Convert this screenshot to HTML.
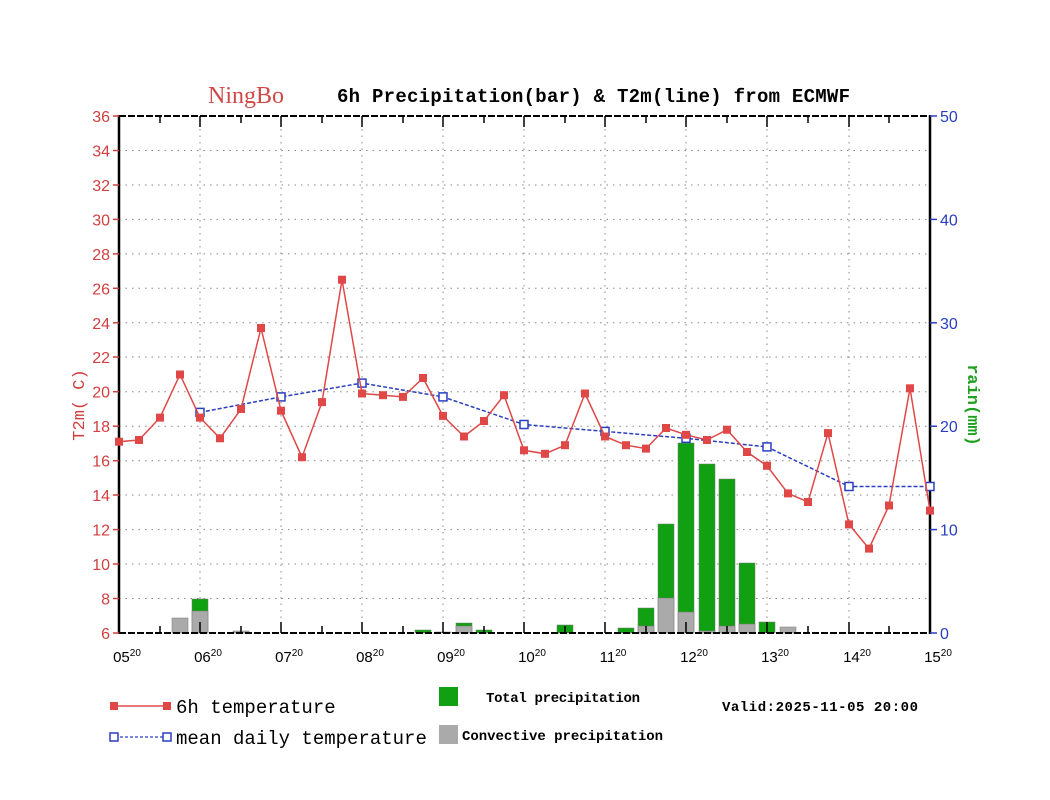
<!DOCTYPE html>
<html><head><meta charset="utf-8"><style>
html,body{margin:0;padding:0;background:#fff;}
svg{display:block;}
</style></head><body>
<svg width="1050" height="800" xmlns="http://www.w3.org/2000/svg">
<rect width="1050" height="800" fill="#fff"/>
<g stroke="#888" stroke-width="1" stroke-dasharray="1.5,5">
<line x1="119" x2="930" y1="150.5" y2="150.5"/><line x1="119" x2="930" y1="185" y2="185"/><line x1="119" x2="930" y1="219.4" y2="219.4"/><line x1="119" x2="930" y1="253.9" y2="253.9"/><line x1="119" x2="930" y1="288.3" y2="288.3"/><line x1="119" x2="930" y1="322.8" y2="322.8"/><line x1="119" x2="930" y1="357" y2="357"/><line x1="119" x2="930" y1="391.7" y2="391.7"/><line x1="119" x2="930" y1="426.2" y2="426.2"/><line x1="119" x2="930" y1="460.7" y2="460.7"/><line x1="119" x2="930" y1="495" y2="495"/><line x1="119" x2="930" y1="529.6" y2="529.6"/><line x1="119" x2="930" y1="564" y2="564"/><line x1="119" x2="930" y1="598.5" y2="598.5"/>
<line y1="116" y2="633" x1="200" x2="200"/><line y1="116" y2="633" x1="281" x2="281"/><line y1="116" y2="633" x1="362" x2="362"/><line y1="116" y2="633" x1="443" x2="443"/><line y1="116" y2="633" x1="524" x2="524"/><line y1="116" y2="633" x1="605" x2="605"/><line y1="116" y2="633" x1="686" x2="686"/><line y1="116" y2="633" x1="767" x2="767"/><line y1="116" y2="633" x1="849" x2="849"/>
</g>
<g stroke="#777" stroke-width="0.5">
<rect x="172" y="618" width="16" height="15" fill="#aaa"/>
<rect x="192" y="599" width="16" height="34" fill="#11a011"/><rect x="192" y="611" width="16" height="22" fill="#aaa"/>
<rect x="233" y="631" width="16" height="2" fill="#aaa"/>
<rect x="415" y="630" width="16" height="3" fill="#11a011"/>
<rect x="435" y="632" width="16" height="1" fill="#aaa"/>
<rect x="456" y="623" width="16" height="10" fill="#11a011"/><rect x="456" y="626" width="16" height="7" fill="#aaa"/>
<rect x="476" y="630" width="16" height="3" fill="#11a011"/>
<rect x="557" y="625" width="16" height="8" fill="#11a011"/>
<rect x="618" y="628" width="16" height="5" fill="#11a011"/>
<rect x="638" y="608" width="16" height="25" fill="#11a011"/><rect x="638" y="626" width="16" height="7" fill="#aaa"/>
<rect x="658" y="524" width="16" height="109" fill="#11a011"/><rect x="658" y="598" width="16" height="35" fill="#aaa"/>
<rect x="678" y="443" width="16" height="190" fill="#11a011"/><rect x="678" y="612" width="16" height="21" fill="#aaa"/>
<rect x="699" y="464" width="16" height="169" fill="#11a011"/><rect x="699" y="631" width="16" height="2" fill="#aaa"/>
<rect x="719" y="479" width="16" height="154" fill="#11a011"/><rect x="719" y="626" width="16" height="7" fill="#aaa"/>
<rect x="739" y="563" width="16" height="70" fill="#11a011"/><rect x="739" y="624" width="16" height="9" fill="#aaa"/>
<rect x="759" y="622" width="16" height="11" fill="#11a011"/>
<rect x="780" y="627" width="16" height="6" fill="#aaa"/>
</g>
<g stroke="#000">
<line x1="119" x2="930" y1="116" y2="116" stroke-width="2" stroke-dasharray="7,2"/>
<line x1="119" x2="930" y1="633" y2="633" stroke-width="2" stroke-dasharray="7,2"/>
<line x1="119" x2="119" y1="115" y2="634" stroke-width="2.5"/>
<line x1="930" x2="930" y1="115" y2="634" stroke-width="2.5"/>
<g stroke-width="1.5">
<line x1="160" x2="160" y1="116" y2="123"/><line x1="200" x2="200" y1="116" y2="127"/><line x1="241" x2="241" y1="116" y2="123"/><line x1="281" x2="281" y1="116" y2="127"/><line x1="322" x2="322" y1="116" y2="123"/><line x1="362" x2="362" y1="116" y2="127"/><line x1="403" x2="403" y1="116" y2="123"/><line x1="443" x2="443" y1="116" y2="127"/><line x1="484" x2="484" y1="116" y2="123"/><line x1="524" x2="524" y1="116" y2="127"/><line x1="565" x2="565" y1="116" y2="123"/><line x1="605" x2="605" y1="116" y2="127"/><line x1="646" x2="646" y1="116" y2="123"/><line x1="686" x2="686" y1="116" y2="127"/><line x1="727" x2="727" y1="116" y2="123"/><line x1="767" x2="767" y1="116" y2="127"/><line x1="808" x2="808" y1="116" y2="123"/><line x1="849" x2="849" y1="116" y2="127"/><line x1="889" x2="889" y1="116" y2="123"/>
<line x1="160" x2="160" y1="633" y2="626"/><line x1="200" x2="200" y1="633" y2="622"/><line x1="241" x2="241" y1="633" y2="626"/><line x1="281" x2="281" y1="633" y2="622"/><line x1="322" x2="322" y1="633" y2="626"/><line x1="362" x2="362" y1="633" y2="622"/><line x1="403" x2="403" y1="633" y2="626"/><line x1="443" x2="443" y1="633" y2="622"/><line x1="484" x2="484" y1="633" y2="626"/><line x1="524" x2="524" y1="633" y2="622"/><line x1="565" x2="565" y1="633" y2="626"/><line x1="605" x2="605" y1="633" y2="622"/><line x1="646" x2="646" y1="633" y2="626"/><line x1="686" x2="686" y1="633" y2="622"/><line x1="727" x2="727" y1="633" y2="626"/><line x1="767" x2="767" y1="633" y2="622"/><line x1="808" x2="808" y1="633" y2="626"/><line x1="849" x2="849" y1="633" y2="622"/><line x1="889" x2="889" y1="633" y2="626"/>
</g>
</g>
<g stroke="#d04040" stroke-width="1.5">
<line x1="113" x2="119" y1="116" y2="116"/><line x1="113" x2="119" y1="150.5" y2="150.5"/><line x1="113" x2="119" y1="185" y2="185"/><line x1="113" x2="119" y1="219.4" y2="219.4"/><line x1="113" x2="119" y1="253.9" y2="253.9"/><line x1="113" x2="119" y1="288.3" y2="288.3"/><line x1="113" x2="119" y1="322.8" y2="322.8"/><line x1="113" x2="119" y1="357" y2="357"/><line x1="113" x2="119" y1="391.7" y2="391.7"/><line x1="113" x2="119" y1="426.2" y2="426.2"/><line x1="113" x2="119" y1="460.7" y2="460.7"/><line x1="113" x2="119" y1="495" y2="495"/><line x1="113" x2="119" y1="529.6" y2="529.6"/><line x1="113" x2="119" y1="564" y2="564"/><line x1="113" x2="119" y1="598.5" y2="598.5"/><line x1="113" x2="119" y1="633" y2="633"/>
</g>
<g stroke="#2a3fbf" stroke-width="1.5">
<line x1="930" x2="937" y1="116" y2="116"/><line x1="930" x2="937" y1="219.4" y2="219.4"/><line x1="930" x2="937" y1="322.8" y2="322.8"/><line x1="930" x2="937" y1="426.2" y2="426.2"/><line x1="930" x2="937" y1="529.6" y2="529.6"/><line x1="930" x2="937" y1="633" y2="633"/>
</g>
<g font-family="Liberation Sans, sans-serif" font-size="16" fill="#d04040" text-anchor="end">
<text x="110" y="122">36</text><text x="110" y="156.5">34</text><text x="110" y="191">32</text><text x="110" y="225.4">30</text><text x="110" y="259.9">28</text><text x="110" y="294.3">26</text><text x="110" y="328.8">24</text><text x="110" y="363">22</text><text x="110" y="397.7">20</text><text x="110" y="432.2">18</text><text x="110" y="466.7">16</text><text x="110" y="501">14</text><text x="110" y="535.6">12</text><text x="110" y="570">10</text><text x="110" y="604.5">8</text><text x="110" y="639">6</text>
</g>
<g font-family="Liberation Sans, sans-serif" font-size="16" fill="#2a3fbf">
<text x="940" y="122">50</text><text x="940" y="225.4">40</text><text x="940" y="328.8">30</text><text x="940" y="432.2">20</text><text x="940" y="535.6">10</text><text x="940" y="639">0</text>
</g>
<text transform="translate(84,405) rotate(-90)" font-family="Liberation Mono, monospace" font-size="17" fill="#d04040" text-anchor="middle">T2m( C)</text>
<text transform="translate(968,405) rotate(90)" font-family="Liberation Mono, monospace" font-size="17" font-weight="bold" fill="#20a020" text-anchor="middle">rain(mm)</text>
<g font-family="Liberation Sans, sans-serif" font-size="15" fill="#000" text-anchor="middle">
<text x="127" y="662">05<tspan font-size="10" dy="-6">20</tspan></text>
<text x="208" y="662">06<tspan font-size="10" dy="-6">20</tspan></text>
<text x="289" y="662">07<tspan font-size="10" dy="-6">20</tspan></text>
<text x="370" y="662">08<tspan font-size="10" dy="-6">20</tspan></text>
<text x="451" y="662">09<tspan font-size="10" dy="-6">20</tspan></text>
<text x="532" y="662">10<tspan font-size="10" dy="-6">20</tspan></text>
<text x="613" y="662">11<tspan font-size="10" dy="-6">20</tspan></text>
<text x="694" y="662">12<tspan font-size="10" dy="-6">20</tspan></text>
<text x="775" y="662">13<tspan font-size="10" dy="-6">20</tspan></text>
<text x="857" y="662">14<tspan font-size="10" dy="-6">20</tspan></text>
<text x="938" y="662">15<tspan font-size="10" dy="-6">20</tspan></text>
</g>
<text x="208" y="103" font-family="Liberation Serif, serif" font-size="24" fill="#d04848">NingBo</text>
<text x="337" y="102" font-family="Liberation Mono, monospace" font-size="19" font-weight="bold" fill="#000" textLength="513" lengthAdjust="spacing">6h Precipitation(bar) &amp; T2m(line) from ECMWF</text>
<polyline fill="none" stroke="#2a3fbf" stroke-width="1.5" stroke-dasharray="4,2" points="200,412.4 281,396.9 362,383.1 443,396.9 524,424.5 605,431.4 686,438.3 767,446.9 849,486.5 930,486.5"/>
<g fill="#fff" stroke="#2a3fbf" stroke-width="1.5">
<rect x="196" y="408.4" width="8" height="8"/><rect x="277" y="392.9" width="8" height="8"/><rect x="358" y="379.1" width="8" height="8"/><rect x="439" y="392.9" width="8" height="8"/><rect x="520" y="420.5" width="8" height="8"/><rect x="601" y="427.4" width="8" height="8"/><rect x="682" y="434.3" width="8" height="8"/><rect x="763" y="442.9" width="8" height="8"/><rect x="845" y="482.5" width="8" height="8"/><rect x="926" y="482.5" width="8" height="8"/>
</g>
<polyline fill="none" stroke="#e04848" stroke-width="1.5" points="119,441.7 139,440 160,417.6 180,374.5 200,417.6 220,438.3 241,409 261,328 281,410.7 302,457.2 322,402.1 342,279.7 362,393.5 383,395.2 403,396.9 423,378 443,415.9 464,436.5 484,421 504,395.2 524,450.3 545,453.8 565,445.2 585,393.5 605,436.5 626,445.2 646,448.6 666,428 686,434.8 707,440 727,429.7 747,452 767,465.8 788,493.4 808,502 828,433.1 849,524.4 869,548.6 889,505.5 910,388.3 930,510.6"/>
<g fill="#e04848">
<rect x="115" y="437.7" width="8" height="8"/><rect x="135" y="436" width="8" height="8"/><rect x="156" y="413.6" width="8" height="8"/><rect x="176" y="370.5" width="8" height="8"/><rect x="196" y="413.6" width="8" height="8"/><rect x="216" y="434.3" width="8" height="8"/><rect x="237" y="405" width="8" height="8"/><rect x="257" y="324" width="8" height="8"/><rect x="277" y="406.7" width="8" height="8"/><rect x="298" y="453.2" width="8" height="8"/><rect x="318" y="398.1" width="8" height="8"/><rect x="338" y="275.7" width="8" height="8"/><rect x="358" y="389.5" width="8" height="8"/><rect x="379" y="391.2" width="8" height="8"/><rect x="399" y="392.9" width="8" height="8"/><rect x="419" y="374" width="8" height="8"/><rect x="439" y="411.9" width="8" height="8"/><rect x="460" y="432.5" width="8" height="8"/><rect x="480" y="417" width="8" height="8"/><rect x="500" y="391.2" width="8" height="8"/><rect x="520" y="446.3" width="8" height="8"/><rect x="541" y="449.8" width="8" height="8"/><rect x="561" y="441.2" width="8" height="8"/><rect x="581" y="389.5" width="8" height="8"/><rect x="601" y="432.5" width="8" height="8"/><rect x="622" y="441.2" width="8" height="8"/><rect x="642" y="444.6" width="8" height="8"/><rect x="662" y="424" width="8" height="8"/><rect x="682" y="430.8" width="8" height="8"/><rect x="703" y="436" width="8" height="8"/><rect x="723" y="425.7" width="8" height="8"/><rect x="743" y="448" width="8" height="8"/><rect x="763" y="461.8" width="8" height="8"/><rect x="784" y="489.4" width="8" height="8"/><rect x="804" y="498" width="8" height="8"/><rect x="824" y="429.1" width="8" height="8"/><rect x="845" y="520.4" width="8" height="8"/><rect x="865" y="544.6" width="8" height="8"/><rect x="885" y="501.5" width="8" height="8"/><rect x="906" y="384.3" width="8" height="8"/><rect x="926" y="506.6" width="8" height="8"/>
</g>
<line x1="115" x2="167" y1="706" y2="706" stroke="#e04848" stroke-width="1.5"/>
<rect x="110" y="702" width="8" height="8" fill="#e04848"/><rect x="163" y="702" width="8" height="8" fill="#e04848"/>
<text x="176" y="713" font-family="Liberation Mono, monospace" font-size="19" fill="#000">6h temperature</text>
<line x1="115" x2="167" y1="737" y2="737" stroke="#2a3fbf" stroke-width="1.2" stroke-dasharray="3,2"/>
<rect x="110" y="733" width="8" height="8" fill="#fff" stroke="#2a3fbf" stroke-width="1.5"/><rect x="163" y="733" width="8" height="8" fill="#fff" stroke="#2a3fbf" stroke-width="1.5"/>
<text x="176" y="744" font-family="Liberation Mono, monospace" font-size="19" fill="#000">mean daily temperature</text>
<rect x="439" y="687" width="19" height="19" fill="#11a011"/>
<text x="486" y="702" font-family="Liberation Mono, monospace" font-size="14" font-weight="bold" fill="#000" textLength="154" lengthAdjust="spacing">Total precipitation</text>
<rect x="439" y="725" width="19" height="19" fill="#aaa"/>
<text x="462" y="740" font-family="Liberation Mono, monospace" font-size="14" font-weight="bold" fill="#000" textLength="201" lengthAdjust="spacing">Convective precipitation</text>
<text x="722" y="711" font-family="Liberation Mono, monospace" font-size="14" font-weight="bold" fill="#000" textLength="196" lengthAdjust="spacing">Valid:2025-11-05 20:00</text>
</svg>
</body></html>
